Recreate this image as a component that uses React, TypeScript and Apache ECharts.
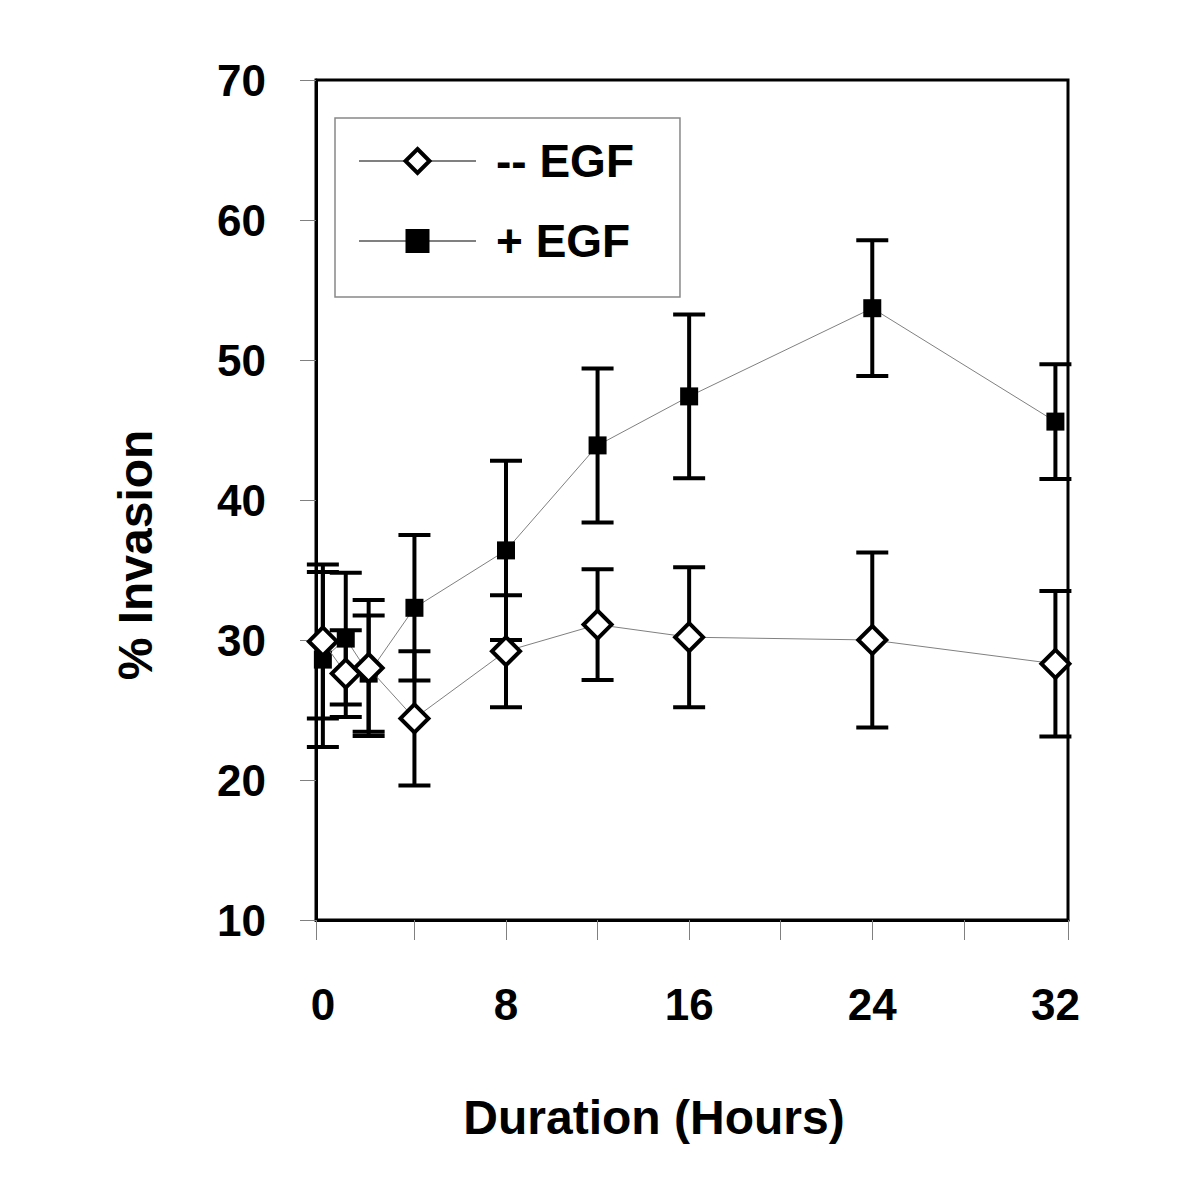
import React, { useEffect, useRef } from "react";
import * as echarts from "echarts";

const hours = [0, 1, 2, 4, 8, 12, 16, 24, 32];
const minusEGF = [29.9, 27.6, 28.0, 24.4, 29.2, 31.1, 30.2, 30.0, 28.3];
const minusEGFErr = [5.5, 3.1, 4.85, 4.8, 4.0, 3.95, 5.0, 6.25, 5.2];
const plusEGF = [28.6, 30.1, 27.6, 32.3, 36.4, 43.9, 47.4, 53.7, 45.6];
const plusEGFErr = [6.25, 4.7, 4.15, 5.2, 6.4, 5.5, 5.85, 4.85, 4.1];

const xLabels = [0, 8, 16, 24, 32];
const xMin = -0.3;
const xMax = 32.55;
const xTicks = [xMin, 4, 8, 12, 16, 20, 24, 28, xMax];
const yTicks = [10, 20, 30, 40, 50, 60, 70];

const FONT = "'Liberation Sans', Arial, sans-serif";

function errData(vals: number[], errs: number[]) {
  return hours.map((h, i) => [h, vals[i] - errs[i], vals[i] + errs[i]]);
}

function renderErr(params: any, api: any) {
  const x = api.value(0);
  const lo = api.coord([x, api.value(1)]);
  const hi = api.coord([x, api.value(2)]);
  const hw = 16;
  const style = { stroke: "#000", lineWidth: 4 };
  return {
    type: "group",
    children: [
      { type: "line", shape: { x1: lo[0], y1: lo[1], x2: hi[0], y2: hi[1] }, style },
      { type: "line", shape: { x1: lo[0] - hw, y1: lo[1], x2: lo[0] + hw, y2: lo[1] }, style },
      { type: "line", shape: { x1: hi[0] - hw, y1: hi[1], x2: hi[0] + hw, y2: hi[1] }, style },
    ],
  };
}

export default function App() {
  const ref = useRef<HTMLDivElement>(null);
  useEffect(() => {
    if (!ref.current) return;
    const chart = echarts.init(ref.current, undefined, { renderer: "svg" });
    chart.setOption({
      animation: false,
      backgroundColor: "#fff",
      grid: {
        left: 316,
        top: 80,
        width: 752,
        height: 840,
        show: true,
        borderColor: "#000",
        borderWidth: 3,
        backgroundColor: "transparent",
      },
      legend: {
        orient: "vertical",
        left: 335,
        top: 118,
        padding: [17, 46, 30, 23],
        itemGap: 28,
        itemWidth: 117,
        itemHeight: 30,
        borderColor: "#888",
        borderWidth: 1.5,
        backgroundColor: "#fff",
        data: [
          { name: "-- EGF", itemStyle: { color: "#fff", borderColor: "#000", borderWidth: 4 } },
          { name: "+ EGF", itemStyle: { color: "#000", borderColor: "#000", borderWidth: 0 } },
        ],
        textStyle: {
          fontFamily: FONT,
          fontWeight: "bold",
          fontSize: 46,
          lineHeight: 52,
          color: "#000",
          padding: [0, 0, 0, 15],
        },
      },
      xAxis: {
        type: "value",
        min: xMin,
        max: xMax,
        axisLine: { show: true, onZero: false, lineStyle: { color: "#000", width: 3 } },
        axisTick: {
          show: true,
          length: 20,
          customValues: xTicks,
          lineStyle: { color: "#808080", width: 1 },
        },
        axisLabel: {
          customValues: xLabels,
          margin: 62,
          fontFamily: FONT,
          fontWeight: "bold",
          fontSize: 44,
          color: "#000",
        },
        splitLine: { show: false },
      },
      yAxis: {
        type: "value",
        min: 10,
        max: 70,
        interval: 10,
        axisLine: { show: true, onZero: false, lineStyle: { color: "#000", width: 3 } },
        axisTick: {
          show: true,
          length: 16,
          customValues: yTicks,
          lineStyle: { color: "#808080", width: 1 },
        },
        axisLabel: {
          margin: 50,
          fontFamily: FONT,
          fontWeight: "bold",
          fontSize: 44,
          color: "#000",
        },
        splitLine: { show: false },
      },
      graphic: [
        {
          type: "text",
          x: 654,
          y: 1117,
          style: {
            text: "Duration (Hours)",
            font: `bold 48px ${FONT}`,
            fill: "#000",
            align: "center",
            verticalAlign: "middle",
          },
        },
        {
          type: "text",
          x: 135,
          y: 555,
          rotation: Math.PI / 2,
          style: {
            text: "% Invasion",
            font: `bold 48px ${FONT}`,
            fill: "#000",
            align: "center",
            verticalAlign: "middle",
          },
        },
      ],
      series: [
        {
          type: "custom",
          name: "errPlus",
          z: 2,
          renderItem: renderErr,
          data: errData(plusEGF, plusEGFErr),
          encode: { x: 0, y: [1, 2] },
          silent: true,
        },
        {
          type: "custom",
          name: "errMinus",
          z: 2,
          renderItem: renderErr,
          data: errData(minusEGF, minusEGFErr),
          encode: { x: 0, y: [1, 2] },
          silent: true,
        },
        {
          type: "line",
          name: "+ EGF",
          z: 3,
          data: hours.map((h, i) => [h, plusEGF[i]]),
          symbol: "rect",
          symbolSize: 18,
          showAllSymbol: true,
          lineStyle: { color: "#808080", width: 1 },
          itemStyle: { color: "#000", borderColor: "#000", borderWidth: 0 },
        },
        {
          type: "line",
          name: "-- EGF",
          z: 4,
          data: hours.map((h, i) => [h, minusEGF[i]]),
          symbol: "diamond",
          symbolSize: 28,
          showAllSymbol: true,
          lineStyle: { color: "#808080", width: 1 },
          itemStyle: { color: "#fff", borderColor: "#000", borderWidth: 4 },
        },
      ],
    });
    return () => chart.dispose();
  }, []);
  return (
    <div
      ref={ref}
      style={{ position: "absolute", left: 0, top: 0, width: 1200, height: 1200 }}
    />
  );
}
